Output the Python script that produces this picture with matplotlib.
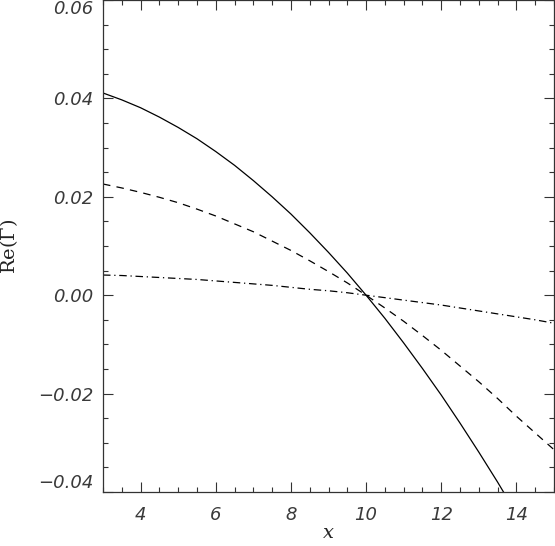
import numpy as np
import matplotlib
matplotlib.use('Agg')
import matplotlib.pyplot as plt
from matplotlib.ticker import MultipleLocator

# values at half-unit steps of x
x_vals = [3.0, 3.5, 4.0, 4.5, 5.0, 5.5, 6.0, 6.5, 7.0, 7.5, 8.0, 8.5, 9.0,
          9.5, 10.0, 10.5, 11.0, 11.5, 12.0, 12.5, 13.0, 13.5, 14.0, 14.5, 15.0]
solid_vals = [0.0411, 0.0397, 0.0381, 0.0362, 0.0341, 0.0318, 0.0292, 0.0264,
              0.0233, 0.0200, 0.0165, 0.0127, 0.0087, 0.0045, 0.0, -0.0047,
              -0.0097, -0.0149, -0.0203, -0.0260, -0.0319, -0.0380, -0.0444,
              np.nan, np.nan]
dashed_vals = [0.0226, 0.0218, 0.0209, 0.0199, 0.0188, 0.0175, 0.0161, 0.0145,
               0.0129, 0.0110, 0.0091, 0.0070, 0.0048, 0.0025, 0.0, -0.0026,
               -0.0053, -0.0082, -0.0112, -0.0144, -0.0176, -0.0210, -0.0246,
               -0.0280, -0.0314]
dashdot_vals = [0.0041, 0.0040, 0.0038, 0.0036, 0.0034, 0.0032, 0.0029, 0.0026,
                0.0023, 0.0020, 0.0016, 0.0012, 0.0009, 0.0005, 0.0, -0.0005,
                -0.0010, -0.0015, -0.0020, -0.0026, -0.0032, -0.0038, -0.0044,
                -0.0050, -0.0057]

x_ticks = [4, 6, 8, 10, 12, 14]
y_ticks = [-0.04, -0.02, 0.0, 0.02, 0.04, 0.06]
y_tick_labels = ['\u22120.04', '\u22120.02', '0.00', '0.02', '0.04', '0.06']

AXIS_GREY = '#333333'
LABEL_GREY = '#3a3a3a'
TICK_TEXT = dict(fontfamily='DejaVu Sans', fontstyle='oblique', fontsize=13,
                 color=LABEL_GREY)

plt.rcParams['mathtext.fontset'] = 'dejavuserif'

fig = plt.figure(figsize=(5.55, 5.46), dpi=100)
ax = fig.add_axes([0.1856, 0.0989, 0.8126, 0.9011])

ax.plot(x_vals, solid_vals, color='black', lw=0.9, ls='-')
ax.plot(x_vals, dashed_vals, color='black', lw=0.9, ls=(0, (6, 5)))
ax.plot(x_vals, dashdot_vals, color='black', lw=0.9, ls=(0, (6, 3, 1, 3)))

ax.set_xlim(3, 15)
ax.set_ylim(-0.04, 0.06)
ax.set_xticks(x_ticks, labels=[str(t) for t in x_ticks], **TICK_TEXT)
ax.set_yticks(y_ticks, labels=y_tick_labels, **TICK_TEXT)
ax.xaxis.set_minor_locator(MultipleLocator(0.5))
ax.yaxis.set_minor_locator(MultipleLocator(0.005))

ax.tick_params(which='both', direction='in', top=True, right=True,
               color=AXIS_GREY, width=0.8)
ax.tick_params(which='major', length=7.2)
ax.tick_params(which='minor', length=3.6)
ax.tick_params(axis='y', pad=7)
ax.tick_params(axis='x', pad=10)

# keep the end labels inside the figure like the original
y_major = ax.yaxis.get_major_ticks()
y_major[0].label1.set_verticalalignment('bottom')
y_major[-1].label1.set_verticalalignment('top')

for spine in ax.spines.values():
    spine.set_color(AXIS_GREY)
    spine.set_linewidth(0.9)

ax.set_xlabel('x', fontfamily='DejaVu Serif', fontstyle='italic',
              fontsize=14, labelpad=0, color='#222222')
ax.set_ylabel(r'Re($\Gamma$)', fontfamily='DejaVu Serif', fontsize=14,
              color='#222222')
ax.yaxis.set_label_coords(-0.183, 0.5)

fig.savefig('out.png', dpi=100)
plt.close(fig)
